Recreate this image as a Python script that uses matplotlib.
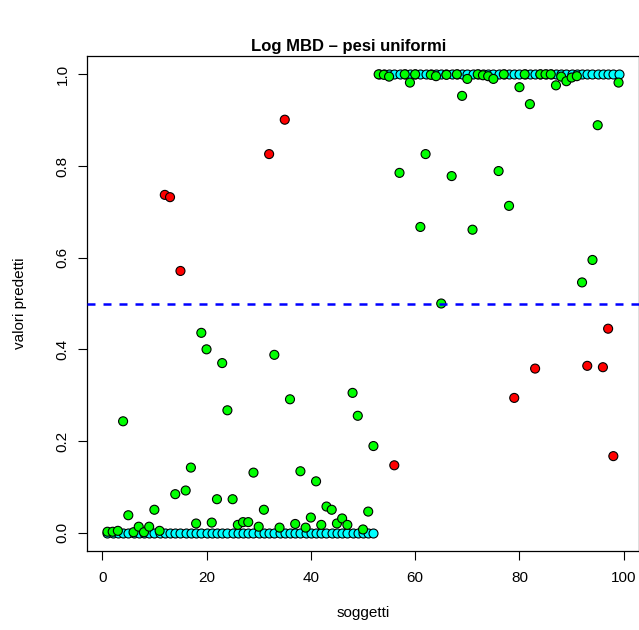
import matplotlib
matplotlib.use("Agg")
import matplotlib.pyplot as plt
import numpy as np

plt.rcParams['font.family'] = ['Liberation Sans', 'DejaVu Sans']

# valori predetti dal modello per ciascun soggetto
predetti = [0.002, 0.002, 0.004, 0.243, 0.038, 0.001, 0.013, 0.001, 0.013, 0.050,
            0.004, 0.737, 0.732, 0.084, 0.571, 0.092, 0.142, 0.020, 0.436, 0.400,
            0.022, 0.073, 0.370, 0.267, 0.073, 0.017, 0.023, 0.023, 0.131, 0.013,
            0.050, 0.826, 0.388, 0.011, 0.901, 0.291, 0.019, 0.134, 0.011, 0.033,
            0.112, 0.017, 0.057, 0.050, 0.020, 0.031, 0.017, 0.305, 0.255, 0.007,
            0.046, 0.189, 1.000, 0.999, 0.995, 0.147, 0.785, 1.000, 0.982, 1.000,
            0.667, 0.826, 0.999, 0.996, 0.500, 0.999, 0.778, 1.000, 0.953, 0.990,
            0.661, 1.000, 0.998, 0.996, 0.990, 0.789, 1.000, 0.713, 0.294, 0.972,
            1.000, 0.935, 0.358, 1.000, 1.000, 1.000, 0.976, 0.995, 0.985, 0.993,
            0.996, 0.546, 0.364, 0.595, 0.889, 0.361, 0.445, 0.167, 0.982]

# classe vera: i primi 52 soggetti 0, gli altri 1
veri = [0] * 52 + [1] * 47

soglia = 0.5
x_ticks = [0, 20, 40, 60, 80, 100]
y_ticks = [0.0, 0.2, 0.4, 0.6, 0.8, 1.0]

soggetti = np.arange(1, len(predetti) + 1)
pred = np.array(predetti)
vero = np.array(veri)
corretto = (pred >= soglia).astype(int) == vero
colori = np.where(corretto, '#00FF00', '#FF0000')

fig = plt.figure(figsize=(6.39, 6.30), dpi=100)
ax = fig.add_axes([87 / 639, 79 / 630, 552 / 639, 495 / 630])

# prima i valori veri (ciano), poi i predetti
ax.scatter(soggetti, vero, s=42, c='#00FFFF', edgecolors='black', linewidths=0.8, zorder=2)
ax.scatter(soggetti, pred, s=42, c=colori, edgecolors='black', linewidths=0.8, zorder=3)
ax.axhline(soglia, color='#0000FF', lw=1.8, dashes=(3.2, 3.2), zorder=4)

ax.set_xlim(-2.92, 102.92)
ax.set_ylim(-0.04, 1.04)
ax.set_xticks(x_ticks)
ax.set_yticks(y_ticks)
ax.set_yticklabels(['%.1f' % v for v in y_ticks], rotation=90, va='center')
ax.tick_params(axis='both', direction='out', length=6.5, width=0.8, labelsize=11)
ax.tick_params(axis='x', pad=8)
ax.tick_params(axis='y', pad=6)
for s in ax.spines.values():
    s.set_linewidth(0.9)

ax.set_xlabel('soggetti', fontsize=11)
ax.set_ylabel('valori predetti', fontsize=11)
ax.xaxis.set_label_coords(0.5, -0.112)
ax.yaxis.set_label_coords(-0.108, 0.5)

fig.text(349 / 639, 1 - 46 / 630, 'Log MBD \u2013 pesi uniformi', ha='center', va='center',
         fontsize=12, fontweight='bold')

fig.savefig('out.png', dpi=100)
